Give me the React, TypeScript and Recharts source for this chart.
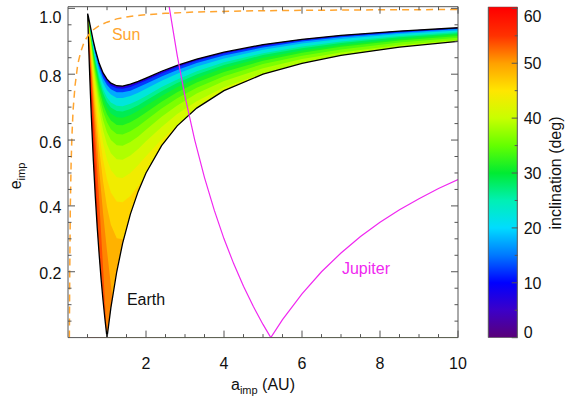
import React from 'react';
import { ComposedChart, Area, Line, XAxis, YAxis, ReferenceDot, BarChart, Bar } from 'recharts';

const FONT = '"Liberation Sans", Arial, Helvetica, sans-serif';
const AXIS = '#555555';

// semi-major axis grid (AU) for the inclination contours
const aGrid = [0.5, 0.52, 0.55, 0.6, 0.65, 0.7, 0.8, 0.9, 1.0, 1.1, 1.25, 1.4, 1.6, 1.8, 2.0, 2.4, 2.8, 3.3, 4, 5, 6, 7, 8.5, 10];

// eccentricity of inclination contours (deg)
const eIncl0 = [0.986, 0.976, 0.959, 0.929, 0.900, 0.875, 0.833, 0.804, 0.785, 0.773, 0.765, 0.764, 0.770, 0.778, 0.788, 0.809, 0.827, 0.846, 0.867, 0.890, 0.906, 0.918, 0.931, 0.941];
const eIncl5 = [0.985, 0.975, 0.958, 0.928, 0.900, 0.874, 0.831, 0.802, 0.783, 0.771, 0.763, 0.762, 0.768, 0.776, 0.787, 0.807, 0.825, 0.845, 0.866, 0.889, 0.905, 0.917, 0.931, 0.941];
const eIncl10 = [0.985, 0.975, 0.957, 0.927, 0.897, 0.870, 0.827, 0.797, 0.777, 0.765, 0.757, 0.756, 0.761, 0.771, 0.781, 0.802, 0.821, 0.841, 0.863, 0.886, 0.903, 0.915, 0.929, 0.939];
const eIncl15 = [0.984, 0.974, 0.956, 0.924, 0.893, 0.865, 0.820, 0.788, 0.767, 0.754, 0.745, 0.745, 0.750, 0.760, 0.771, 0.793, 0.813, 0.834, 0.857, 0.881, 0.899, 0.912, 0.926, 0.937];
const eIncl20 = [0.984, 0.972, 0.953, 0.919, 0.886, 0.857, 0.808, 0.774, 0.751, 0.738, 0.728, 0.728, 0.734, 0.744, 0.756, 0.780, 0.801, 0.823, 0.848, 0.874, 0.893, 0.907, 0.922, 0.933];
const eIncl25 = [0.982, 0.970, 0.949, 0.913, 0.877, 0.845, 0.792, 0.754, 0.729, 0.714, 0.704, 0.703, 0.710, 0.721, 0.734, 0.761, 0.784, 0.809, 0.836, 0.864, 0.884, 0.899, 0.916, 0.928];
const eIncl27 = [0.982, 0.969, 0.947, 0.909, 0.871, 0.837, 0.781, 0.742, 0.715, 0.699, 0.688, 0.687, 0.694, 0.706, 0.720, 0.748, 0.773, 0.799, 0.828, 0.858, 0.879, 0.895, 0.912, 0.924];
const eIncl30 = [0.981, 0.967, 0.945, 0.904, 0.865, 0.829, 0.769, 0.727, 0.698, 0.681, 0.669, 0.668, 0.676, 0.689, 0.704, 0.734, 0.760, 0.788, 0.819, 0.850, 0.872, 0.889, 0.907, 0.921];
const eIncl32 = [0.980, 0.965, 0.941, 0.899, 0.857, 0.818, 0.755, 0.709, 0.678, 0.659, 0.646, 0.645, 0.654, 0.668, 0.684, 0.716, 0.745, 0.775, 0.807, 0.841, 0.865, 0.883, 0.902, 0.916];
const eIncl35 = [0.978, 0.963, 0.938, 0.892, 0.847, 0.806, 0.737, 0.687, 0.654, 0.633, 0.618, 0.617, 0.627, 0.642, 0.660, 0.696, 0.727, 0.759, 0.794, 0.831, 0.856, 0.875, 0.896, 0.911];
const eIncl37 = [0.977, 0.961, 0.934, 0.885, 0.836, 0.791, 0.717, 0.661, 0.624, 0.600, 0.584, 0.583, 0.594, 0.611, 0.631, 0.671, 0.705, 0.741, 0.779, 0.818, 0.846, 0.866, 0.889, 0.904];
const eIncl40 = [0.975, 0.958, 0.929, 0.876, 0.823, 0.774, 0.691, 0.630, 0.587, 0.560, 0.542, 0.540, 0.553, 0.573, 0.596, 0.640, 0.679, 0.718, 0.760, 0.803, 0.834, 0.856, 0.880, 0.897];
const eIncl42 = [0.973, 0.955, 0.923, 0.865, 0.807, 0.753, 0.661, 0.591, 0.541, 0.509, 0.487, 0.485, 0.500, 0.524, 0.551, 0.602, 0.646, 0.691, 0.738, 0.786, 0.819, 0.843, 0.870, 0.888];
const eIncl45 = [0.971, 0.950, 0.916, 0.852, 0.788, 0.728, 0.622, 0.540, 0.481, 0.441, 0.413, 0.411, 0.430, 0.460, 0.493, 0.554, 0.606, 0.657, 0.711, 0.764, 0.801, 0.828, 0.857, 0.878];
const eIncl47 = [0.968, 0.946, 0.907, 0.837, 0.765, 0.696, 0.574, 0.474, 0.397, 0.343, 0.302, 0.299, 0.327, 0.370, 0.413, 0, 0, 0, 0, 0, 0, 0, 0, 0];
const eIncl50 = [0.965, 0.940, 0.897, 0.818, 0.736, 0.656, 0.509, 0.378, 0.264, 0.160, 0, 0, 0.117, 0.215, 0.290, 0, 0, 0, 0, 0, 0, 0, 0, 0];
const eIncl52 = [0.960, 0.933, 0.884, 0.794, 0.699, 0.605, 0.417, 0.212, 0, 0, 0, 0, 0, 0, 0, 0, 0, 0, 0, 0, 0, 0, 0, 0];
const eIncl55 = [0.955, 0.924, 0.868, 0.764, 0.652, 0.534, 0.263, 0, 0, 0, 0, 0, 0, 0, 0, 0, 0, 0, 0, 0, 0, 0, 0, 0];
const eIncl57 = [0.949, 0.913, 0.848, 0.725, 0.587, 0.431, 0, 0, 0, 0, 0, 0, 0, 0, 0, 0, 0, 0, 0, 0, 0, 0, 0, 0];
const eIncl60 = [0.941, 0.898, 0.822, 0.672, 0.493, 0.244, 0, 0, 0, 0, 0, 0, 0, 0, 0, 0, 0, 0, 0, 0, 0, 0, 0, 0];

const inclLevels = [0, 5, 10, 15, 20, 25, 27.5, 30, 32.5, 35, 37.5, 40, 42.5, 45, 47.5, 50, 52.5, 55, 57.5, 60];
const levelArrays = [eIncl0, eIncl5, eIncl10, eIncl15, eIncl20, eIncl25, eIncl27, eIncl30, eIncl32, eIncl35, eIncl37, eIncl40, eIncl42, eIncl45, eIncl47, eIncl50, eIncl52, eIncl55, eIncl57, eIncl60];

// Earth-crossing limit (below it: no Earth crossing)
const crossA = [0.45, 0.5, 0.51, 0.52, 0.535, 0.55, 0.575, 0.6, 0.65, 0.7, 0.75, 0.8, 0.85, 0.9, 0.95, 1, 1.1, 1.25, 1.4, 1.6, 1.8, 2, 2.4, 2.8, 3.3, 4, 5, 6, 7, 8.5, 10];
const crossE = [1.005, 1, 0.961, 0.923, 0.869, 0.818, 0.739, 0.667, 0.538, 0.429, 0.333, 0.25, 0.176, 0.111, 0.053, 0, 0.091, 0.2, 0.286, 0.375, 0.444, 0.5, 0.583, 0.643, 0.697, 0.75, 0.8, 0.833, 0.857, 0.882, 0.9];

// Earth region outline
const edgeA = [10, 8.5, 7, 6, 5, 4, 3.3, 2.8, 2.4, 2.0, 1.8, 1.6, 1.4, 1.25, 1.1, 1.0, 0.9, 0.8, 0.7, 0.65, 0.6, 0.55, 0.52, 0.504, 0.51, 0.52, 0.535, 0.55, 0.575, 0.6, 0.65, 0.7, 0.75, 0.8, 0.85, 0.9, 0.95, 1, 1.1, 1.25, 1.4, 1.6, 1.8, 2, 2.4, 2.8, 3.3, 4, 5, 6, 7, 8.5, 10];
const edgeE = [0.941, 0.931, 0.918, 0.906, 0.890, 0.867, 0.846, 0.827, 0.809, 0.788, 0.778, 0.770, 0.764, 0.765, 0.773, 0.785, 0.804, 0.833, 0.875, 0.900, 0.929, 0.959, 0.976, 0.984, 0.961, 0.923, 0.869, 0.818, 0.739, 0.667, 0.538, 0.429, 0.333, 0.25, 0.176, 0.111, 0.053, 0, 0.091, 0.2, 0.286, 0.375, 0.444, 0.5, 0.583, 0.643, 0.697, 0.75, 0.8, 0.833, 0.857, 0.882, 0.9];

// Sun curve
const sunA = [0.035, 0.045, 0.06, 0.08, 0.1, 0.13, 0.18, 0.25, 0.32, 0.42, 0.52, 0.65, 0.82, 1.0, 1.25, 1.5, 1.85, 2.5, 3.3, 4.5, 6, 8, 10];
const sunE = [0, 0.2, 0.4, 0.53, 0.61, 0.69, 0.765, 0.83, 0.865, 0.9, 0.918, 0.935, 0.949, 0.958, 0.968, 0.974, 0.979, 0.985, 0.989, 0.992, 0.994, 0.9955, 0.9965];

// Jupiter curve
const jupA = [2.594, 2.8, 3, 3.25, 3.5, 3.75, 4, 4.25, 4.5, 4.75, 5, 5.2, 5.5, 6, 6.5, 7, 7.5, 8, 8.5, 9, 9.5, 10];
const jupE = [1.005, 0.857, 0.733, 0.6, 0.486, 0.387, 0.3, 0.224, 0.156, 0.095, 0.04, 0, 0.0545, 0.133, 0.2, 0.257, 0.307, 0.35, 0.388, 0.422, 0.453, 0.48];

const xTicks = [0.5, 1, 1.5, 2, 2.5, 3, 3.5, 4, 4.5, 5, 5.5, 6, 6.5, 7, 7.5, 8, 8.5, 9, 9.5, 10];
const xLabels = [2, 4, 6, 8, 10];
const yTicks = [0.05, 0.1, 0.15, 0.2, 0.25, 0.3, 0.35, 0.4, 0.45, 0.5, 0.55, 0.6, 0.65, 0.7, 0.75, 0.8, 0.85, 0.9, 0.95, 1.0];
const yLabels = [0.2, 0.4, 0.6, 0.8, 1.0];

const cbTicks = [0, 5, 10, 15, 20, 25, 30, 35, 40, 45, 50, 55, 60];
const cbLabels = [0, 10, 20, 30, 40, 50, 60];
const cbStopVals = [0, 5, 10, 15, 20, 25, 30, 35, 40, 45, 50, 55, 60];
const cbStopColors = ['#5a0078', '#3c00c8', '#0000ff', '#0078ff', '#00dcff', '#00f0b4', '#00eb32', '#64ff00', '#c8ff00', '#ffe600', '#ffa000', '#ff3200', '#ff0000'];
const CB_MAX = 60.3;

// colour of the colour scale at a given inclination (style helper)
const hexToRgb = (h: string) => [parseInt(h.slice(1, 3), 16), parseInt(h.slice(3, 5), 16), parseInt(h.slice(5, 7), 16)];
const colorAt = (v: number) => {
  if (v <= cbStopVals[0]) return cbStopColors[0];
  if (v >= cbStopVals[cbStopVals.length - 1]) return cbStopColors[cbStopColors.length - 1];
  let k = 0;
  while (cbStopVals[k + 1] < v) k++;
  const t = (v - cbStopVals[k]) / (cbStopVals[k + 1] - cbStopVals[k]);
  const c0 = hexToRgb(cbStopColors[k]);
  const c1 = hexToRgb(cbStopColors[k + 1]);
  const c = c0.map((x, i) => Math.round(x + (c1[i] - x) * t));
  return `rgb(${c[0]},${c[1]},${c[2]})`;
};
const bandColors = inclLevels.map((lvl, j) => colorAt(j < inclLevels.length - 1 ? (lvl + inclLevels[j + 1]) / 2 : 61));

const contourRows = aGrid.map((a, k) => {
  const row: Record<string, number> = { a };
  inclLevels.forEach((lvl, j) => { row['l' + j] = levelArrays[j][k]; });
  return row;
});
const crossRows = crossA.map((a, k) => ({ a, e: crossE[k] }));
const edgeRows = edgeA.map((a, k) => ({ a, e: edgeE[k] }));
const sunRows = sunA.map((a, k) => ({ a, e: sunE[k] }));
const jupRows = jupA.map((a, k) => ({ a, e: jupE[k] }));

const isIn = (arr: number[], v: number) => arr.some((t) => Math.abs(t - v) < 1e-9);

const makeXTick = (side: 'bottom' | 'top') => (props: any) => {
  const { x, y, payload } = props;
  const v = payload.value;
  const major = isIn(xLabels, v);
  const len = major ? 7 : 3.5;
  const dir = side === 'bottom' ? -1 : 1;
  return (
    <g>
      <line x1={x} x2={x} y1={y} y2={y + dir * len} stroke={AXIS} strokeWidth={1} />
      {side === 'bottom' && major ? (
        <text x={x} y={y + 31} textAnchor="middle" fontSize={16} fontFamily={FONT} fill="#111">{v}</text>
      ) : null}
    </g>
  );
};

const makeYTick = (side: 'left' | 'right') => (props: any) => {
  const { x, y, payload } = props;
  const v = payload.value;
  const major = isIn(yLabels, v);
  const len = major ? 7 : 3.5;
  const dir = side === 'left' ? 1 : -1;
  const shift = Math.abs(v - 1) < 1e-9 ? 7.5 : 0;
  return (
    <g>
      <line x1={x} x2={x + dir * len} y1={y} y2={y} stroke={AXIS} strokeWidth={1} />
      {side === 'left' && major ? (
        <text x={x - 6.5} y={y + 7.5 + shift} textAnchor="end" fontSize={16} fontFamily={FONT} fill="#111">{v.toFixed(1)}</text>
      ) : null}
    </g>
  );
};

const cbTick = (props: any) => {
  const { x, y, payload } = props;
  const v = payload.value;
  const major = isIn(cbLabels, v);
  const len = major ? 6 : 3;
  const shift = v === 60 ? 7.7 : v === 0 ? -6 : 0;
  return (
    <g>
      <line x1={x} x2={x - len} y1={y} y2={y} stroke={AXIS} strokeWidth={1} />
      {major ? (
        <text x={x + 6} y={y + 6 + shift} textAnchor="start" fontSize={16} fontFamily={FONT} fill="#111">{v}</text>
      ) : null}
    </g>
  );
};

const XTitle = (props: any) => {
  const vb = props.viewBox || { x: 68, y: 337.6, width: 390, height: 30 };
  const cx = vb.x + vb.width / 2;
  return (
    <text x={cx} y={vb.y + 52.5} textAnchor="middle" fontSize={16} fontFamily={FONT} fill="#111">
      <tspan>a</tspan>
      <tspan fontSize={11} dy={4}>imp</tspan>
      <tspan dy={-4}> (AU)</tspan>
    </text>
  );
};

const YTitle = () => (
  <text transform="translate(20.5,176) rotate(-90)" textAnchor="middle" fontSize={16} fontFamily={FONT} fill="#111">
    <tspan>e</tspan>
    <tspan fontSize={11} dy={4}>imp</tspan>
  </text>
);

const CbTitle = () => (
  <text transform="translate(91,173) rotate(-90)" textAnchor="middle" fontSize={16} fontFamily={FONT} fill="#111">
    inclination (deg)
  </text>
);

export default function App() {
  return (
    <div style={{ position: 'absolute', left: 0, top: 0, width: 566, height: 402, background: '#fff' }}>
      <div style={{ position: 'absolute', left: 0, top: 0 }}>
        <ComposedChart width={566} height={402} margin={{ top: 5.7, right: 107, bottom: 34.4, left: 8 }}>
          {inclLevels.map((lvl, j) => (
            <Area
              key={'lvl' + j}
              data={contourRows}
              dataKey={'l' + j}
              type="linear"
              fill={bandColors[j]}
              fillOpacity={1}
              stroke="none"
              isAnimationActive={false}
              activeDot={false}
            />
          ))}
          <Area data={crossRows} dataKey="e" type="linear" fill="#ffffff" fillOpacity={1} stroke="none" isAnimationActive={false} activeDot={false} />
          <Line data={edgeRows} dataKey="e" type="linear" stroke="#000" strokeWidth={1.3} dot={false} activeDot={false} isAnimationActive={false} />
          <Line data={sunRows} dataKey="e" type="linear" stroke="#ffa530" strokeWidth={1.5} strokeDasharray="7 5" dot={false} activeDot={false} isAnimationActive={false} />
          <Line data={jupRows} dataKey="e" type="linear" stroke="#f028f0" strokeWidth={1.2} dot={false} activeDot={false} isAnimationActive={false} />
          <ReferenceDot x={1.49} y={0.921} r={0} fill="none" stroke="none" label={{ value: 'Sun', position: 'center', fill: '#ffa530', fontSize: 16, fontFamily: FONT }} />
          <ReferenceDot x={2.0} y={0.117} r={0} fill="none" stroke="none" label={{ value: 'Earth', position: 'center', fill: '#111', fontSize: 16, fontFamily: FONT }} />
          <ReferenceDot x={7.64} y={0.211} r={0} fill="none" stroke="none" label={{ value: 'Jupiter', position: 'center', fill: '#f028f0', fontSize: 16, fontFamily: FONT }} />
          <XAxis
            type="number"
            dataKey="a"
            domain={[0, 10]}
            allowDataOverflow
            ticks={xTicks}
            interval={0}
            tickSize={0}
            tickMargin={0}
            tickLine={false}
            height={30}
            axisLine={{ stroke: AXIS }}
            tick={makeXTick('bottom')}
            label={<XTitle />}
          />
          <XAxis
            xAxisId="top"
            orientation="top"
            type="number"
            dataKey="a"
            domain={[0, 10]}
            allowDataOverflow
            ticks={xTicks}
            interval={0}
            tickSize={0}
            tickMargin={0}
            tickLine={false}
            height={1}
            axisLine={{ stroke: AXIS }}
            tick={makeXTick('top')}
          />
          <YAxis
            type="number"
            domain={[0, 1.005]}
            allowDataOverflow
            ticks={yTicks}
            interval={0}
            tickSize={0}
            tickMargin={0}
            tickLine={false}
            width={60}
            axisLine={{ stroke: AXIS }}
            tick={makeYTick('left')}
            label={<YTitle />}
          />
          <YAxis
            yAxisId="right"
            orientation="right"
            type="number"
            domain={[0, 1.005]}
            allowDataOverflow
            ticks={yTicks}
            interval={0}
            tickSize={0}
            tickMargin={0}
            tickLine={false}
            width={1}
            axisLine={{ stroke: AXIS }}
            tick={makeYTick('right')}
          />
        </ComposedChart>
      </div>
      <div style={{ position: 'absolute', left: 470, top: 0 }}>
        <BarChart width={96} height={402} data={[{ k: 'c', v: CB_MAX }]} margin={{ top: 6.7, right: 8.3, bottom: 64.3, left: 18.3 }} barCategoryGap={0}>
          <defs>
            <linearGradient id="cbGrad" x1="0" y1="0" x2="0" y2="1">
              {cbStopVals.map((v, k) => (
                <stop key={k} offset={1 - v / CB_MAX} stopColor={cbStopColors[k]} />
              )).reverse()}
            </linearGradient>
          </defs>
          <XAxis dataKey="k" hide />
          <YAxis
            orientation="right"
            type="number"
            domain={[0, CB_MAX]}
            allowDataOverflow
            ticks={cbTicks}
            interval={0}
            tickSize={0}
            tickMargin={0}
            tickLine={false}
            axisLine={false}
            width={40}
            tick={cbTick}
            label={<CbTitle />}
          />
          <Bar dataKey="v" fill="url(#cbGrad)" stroke={AXIS} strokeWidth={1} isAnimationActive={false} />
        </BarChart>
      </div>
    </div>
  );
}
